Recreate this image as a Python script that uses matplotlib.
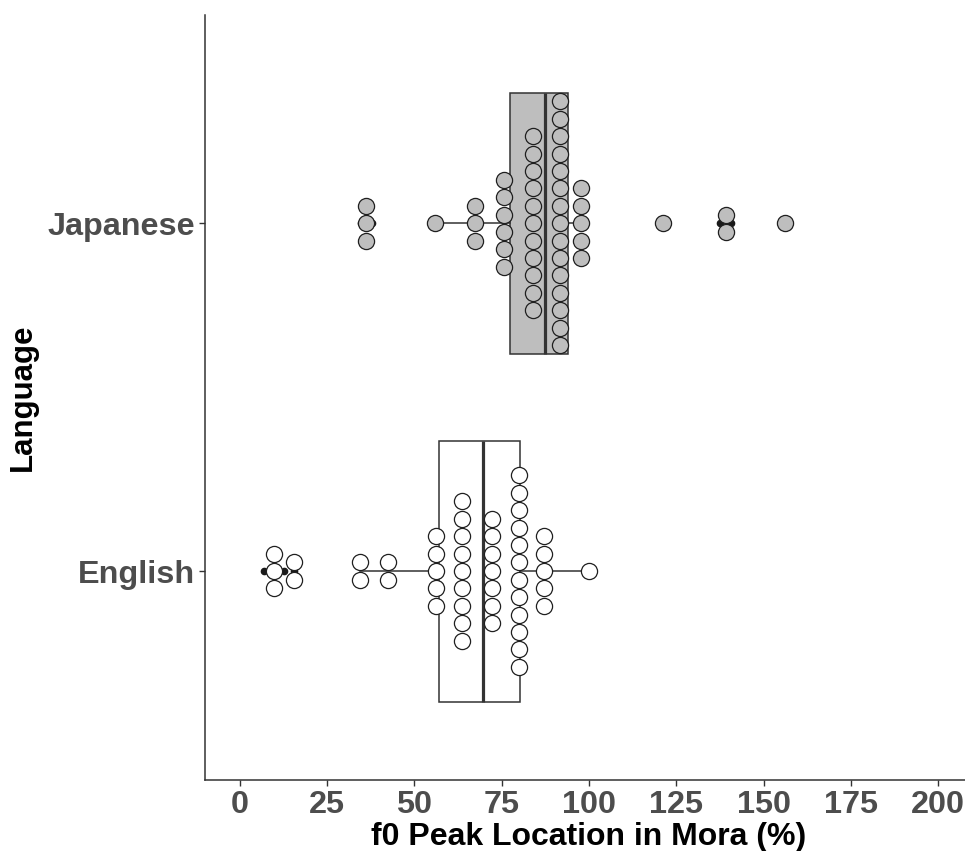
"""
Horizontal box + dot plot: f0 peak location in mora, English vs Japanese
"""
import matplotlib
matplotlib.use('Agg')
import matplotlib.pyplot as plt
import numpy as np

plt.rcParams['font.family'] = ['Liberation Sans', 'DejaVu Sans']

# Languages (y positions 1, 2)
languages = ['English', 'Japanese']

# Dot stacks: bin centre (%) and number of dots in each stack
eng_bins = [9.8, 15.5, 34.3, 42.5, 56.1, 63.5, 72.3, 79.9, 87.1, 100.1]
eng_counts = [3, 2, 2, 2, 5, 9, 7, 12, 5, 1]
jpn_bins = [36.3, 55.9, 67.3, 75.6, 83.9, 91.8, 97.7, 121.2, 139.1, 156.2]
jpn_counts = [3, 1, 3, 6, 11, 15, 5, 1, 2, 1]

# Box summary (Q1, median, Q3, whisker ends, outliers)
eng_box = dict(q1=57.0, med=69.7, q3=80.2, whislo=34.3, whishi=100.1,
               fliers=[6.9, 9.8, 12.6, 15.5])
jpn_box = dict(q1=77.5, med=87.5, q3=94.1, whislo=55.9, whishi=97.7,
               fliers=[34.6, 36.3, 38.0, 121.2, 137.6, 140.6, 156.2])

x_ticks = [0, 25, 50, 75, 100, 125, 150, 175, 200]

W, H, DPI = 965, 851, 100
fig = plt.figure(figsize=(W / DPI, H / DPI), dpi=DPI)

xmin, xmax = -10, 210
ymin, ymax = 0.4, 2.6
px_per_x = 3.493
left_px = 239.7 + xmin * px_per_x
bottom_px, top_px = 779.8, 14.5
ax = fig.add_axes([left_px / W, (H - bottom_px) / H,
                   (xmax - xmin) * px_per_x / W, (bottom_px - top_px) / H])
ax.set_xlim(xmin, xmax)
ax.set_ylim(ymin, ymax)

line_col = '#333333'
fills = ['white', '#BEBEBE']

# Boxplots
stats = []
for name, b in zip(languages, [eng_box, jpn_box]):
    s = dict(b)
    s['label'] = name
    stats.append(s)
bp = ax.bxp(stats, positions=[1, 2], widths=0.75, orientation='horizontal',
            showcaps=False, patch_artist=True, zorder=1,
            boxprops=dict(edgecolor=line_col, linewidth=1.1),
            whiskerprops=dict(color=line_col, linewidth=1.1),
            medianprops=dict(color=line_col, linewidth=2.3),
            flierprops=dict(marker='o', markerfacecolor='#1a1a1a',
                            markeredgecolor='#1a1a1a', markersize=4.5))
for patch, fc in zip(bp['boxes'], fills):
    patch.set_facecolor(fc)

# Dot stacks (centred on the category line, spacing = dot diameter)
dot_px = 17.4
px_per_y = (bottom_px - top_px) / (ymax - ymin)
step = dot_px / px_per_y
dot_pt = dot_px * 72 / DPI - 0.9

for ypos, bins, counts, fc in [(1, eng_bins, eng_counts, 'white'),
                               (2, jpn_bins, jpn_counts, '#BEBEBE')]:
    xs, ys = [], []
    for xb, n in zip(bins, counts):
        for i in range(n):
            xs.append(xb)
            ys.append(ypos + (i - (n - 1) / 2) * step)
    ax.scatter(xs, ys, s=dot_pt ** 2, facecolor=fc, edgecolor='#1f1f1f',
               linewidth=0.9, zorder=3, clip_on=False)

# Axes styling
for sp in ['top', 'right']:
    ax.spines[sp].set_visible(False)
for sp in ['left', 'bottom']:
    ax.spines[sp].set_color(line_col)
    ax.spines[sp].set_linewidth(1.1)

ax.set_xticks(x_ticks)
ax.set_xticklabels([str(t) for t in x_ticks])
ax.set_yticks([1, 2])
ax.set_yticklabels(languages)
ax.tick_params(axis='both', colors=line_col, length=4, width=1.0,
               labelcolor='#4D4D4D', labelsize=23.3, pad=3)
for lab in ax.get_xticklabels() + ax.get_yticklabels():
    lab.set_fontweight('bold')

ax.set_xlabel('f0 Peak Location in Mora (%)', fontsize=23, fontweight='bold',
              color='black', labelpad=2)
ax.set_ylabel('Language', fontsize=22.5, fontweight='bold', color='black',
              labelpad=7)

plt.savefig('out.png', dpi=DPI)
